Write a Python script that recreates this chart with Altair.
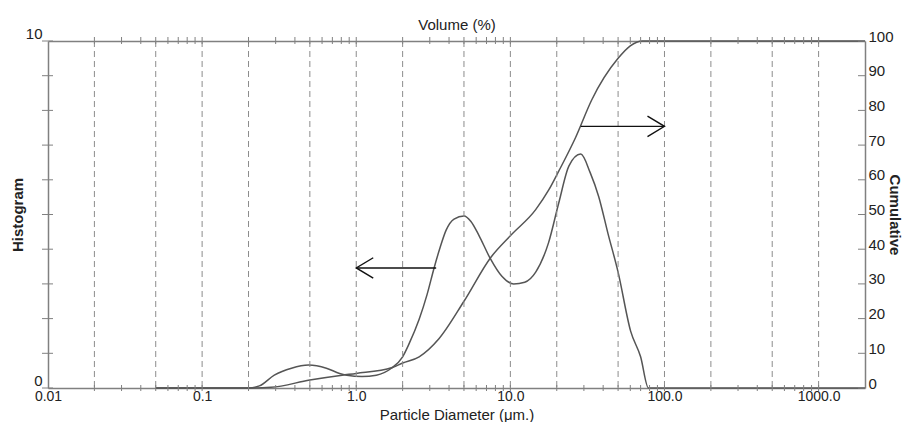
import altair as alt
import pandas as pd

# ---- data ----
hist_x = [0.05, 0.1, 0.2, 0.235, 0.294, 0.38, 0.49, 0.64, 0.78, 0.87, 1.09, 1.35, 1.69, 2.0, 2.2,
          2.56, 2.88, 3.2, 3.5, 3.83, 4.31, 5.0, 5.55, 6.25, 7.37, 8.81, 10.5, 12.4, 14.6, 17.7,
          20.6, 24.0, 28.6, 33.0, 37.4, 43.0, 50.0, 60.3, 70.0, 78.7, 100.0, 2000.0]
hist_y = [0, 0, 0, 0.06, 0.37, 0.57, 0.66, 0.57, 0.42, 0.37, 0.33, 0.37, 0.57, 0.9, 1.27,
          1.98, 2.69, 3.46, 4.05, 4.55, 4.87, 4.96, 4.8, 4.4, 3.75, 3.22, 3.0, 3.05, 3.34, 4.19,
          5.33, 6.4, 6.74, 6.2, 5.52, 4.45, 3.34, 1.64, 0.9, 0, 0, 0]

cum_x = [0.05, 0.1, 0.2, 0.28, 0.5, 0.81, 1.0, 1.71, 2.0, 2.56, 3.44, 5.0, 7.48, 10.0, 14.6,
         17.7, 20.6, 26.5, 33.7, 50.0, 60.0, 72.0, 100.0, 2000.0]
cum_y = [0, 0, 0, 0.2, 2.3, 3.7, 4.2, 5.9, 7.2, 9.0, 14.2, 25.0, 37.7, 43.9, 51.4,
         57.0, 62.5, 72.2, 83.0, 95.0, 98.6, 100.0, 100.0, 100.0]

grid_values = [0.02, 0.05, 0.1, 0.2, 0.5, 1, 2, 5, 10, 20, 50, 100, 200, 500, 1000]
minor_ticks = [0.02, 0.03, 0.04, 0.05, 0.06, 0.07, 0.08, 0.09,
               0.1, 0.2, 0.3, 0.4, 0.5, 0.6, 0.7, 0.8, 0.9,
               1, 2, 3, 4, 5, 6, 7, 8, 9,
               10, 20, 30, 40, 50, 60, 70, 80, 90,
               100, 200, 300, 400, 500, 600, 700, 800, 900,
               1000]
x_label_values = [0.01, 0.1, 1, 10, 100, 1000]
x_labels = ["0.01", "0.1", "1.0", "10.0", "100.0", "1000.0"]
left_tick_values = [0, 1, 2, 3, 4, 5, 6, 7, 8, 9, 10]
left_label_values = [0, 10]
right_tick_values = [0, 10, 20, 30, 40, 50, 60, 70, 80, 90, 100]

arrow_left_x = [1.0, 3.3]
arrow_left_y = 3.46
arrow_right_x = [28.6, 100.0]
arrow_right_y = 75.4

# ---- styling ----
W, H = 817, 347
FONT = "Liberation Sans"
AXC = "#808080"
LINEC = "#555555"
ARC = "#111111"

xscale = alt.Scale(type="log", domain=[0.01, 2000], nice=False)
hscale = alt.Scale(domain=[0, 10], nice=False, zero=True)
cscale = alt.Scale(domain=[0, 100], nice=False, zero=True)

label_expr = ""
for v, lab in zip(x_label_values, x_labels):
    label_expr += f"abs(datum.value - {v}) < {v * 1e-6} ? '{lab}' : "
label_expr += "''"

common_axis = dict(labelFont=FONT, labelColor="#222222",
                   titleFont=FONT, titleColor="#222222", domainColor=AXC,
                   domainWidth=1.5, grid=False, ticks=False, tickSize=0,
                   labelFlush=False)

bottom_axis = alt.Axis(orient="bottom", values=x_label_values, labelExpr=label_expr,
                       labelPadding=1, labelOverlap=False, labelFontSize=14,
                       title="Particle Diameter (μm.)", titleFontSize=15,
                       titleFontWeight="normal", titleY=31, titleBaseline="alphabetic",
                       **common_axis)
top_axis = alt.Axis(orient="top", labels=False, title="Volume (%)", titleFontSize=15,
                    titleFontWeight="normal", titleY=-17, titleBaseline="middle",
                    **common_axis)
left_axis = alt.Axis(orient="left", values=left_label_values, labelPadding=6,
                     labelFontSize=15, labelBaseline="bottom", title="Histogram",
                     titleFontSize=15, titleFontWeight="bold", titleAngle=270, titleX=-31,
                     titleY=H / 2, titleAlign="center", titleBaseline="middle",
                     **common_axis)
right_axis = alt.Axis(orient="right", values=right_tick_values, labelPadding=3,
                      labelFontSize=15, labelBaseline="alphabetic", labelAlign="left",
                      title="Cumulative", titleFontSize=15, titleFontWeight="bold",
                      titleAngle=90, titleX=29, titleY=H / 2, titleAlign="center",
                      titleBaseline="middle", **common_axis)

hist_df = pd.DataFrame({"d": hist_x, "h": hist_y})
cum_df = pd.DataFrame({"d": cum_x, "c": cum_y})
grid_df = pd.DataFrame({"d": grid_values})
xt_df = pd.DataFrame({"d": minor_ticks})
lt_df = pd.DataFrame({"v": left_tick_values})
rt_df = pd.DataFrame({"v": right_tick_values})

grid = alt.Chart(grid_df).mark_rule(color="#8c8c8c", strokeWidth=1, strokeDash=[6, 4]).encode(
    x=alt.X("d:Q", scale=xscale, axis=None))

top_ticks = alt.Chart(xt_df).mark_rule(color=AXC, strokeWidth=1).encode(
    x=alt.X("d:Q", scale=xscale, axis=None), y=alt.value(-4), y2=alt.value(3))
bottom_ticks = alt.Chart(xt_df).mark_rule(color=AXC, strokeWidth=1).encode(
    x=alt.X("d:Q", scale=xscale, axis=None), y=alt.value(H - 3), y2=alt.value(H + 3))
left_ticks = alt.Chart(lt_df).mark_rule(color=AXC, strokeWidth=1).encode(
    y=alt.Y("v:Q", scale=hscale, axis=None), x=alt.value(-6), x2=alt.value(5))
right_ticks = alt.Chart(rt_df).mark_rule(color=AXC, strokeWidth=1).encode(
    y=alt.Y("v:Q", scale=cscale, axis=None), x=alt.value(W - 7), x2=alt.value(W))

hist_line = alt.Chart(hist_df).mark_line(color=LINEC, strokeWidth=1.5,
                                         interpolate="monotone").encode(
    x=alt.X("d:Q", scale=xscale, axis=bottom_axis),
    y=alt.Y("h:Q", scale=hscale, axis=left_axis))

cum_line = alt.Chart(cum_df).mark_line(color=LINEC, strokeWidth=1.5,
                                       interpolate="monotone").encode(
    x=alt.X("d:Q", scale=xscale, axis=top_axis),
    y=alt.Y("c:Q", scale=cscale, axis=right_axis))

al_df = pd.DataFrame({"x": arrow_left_x, "y": [arrow_left_y] * len(arrow_left_x)})
ar_df = pd.DataFrame({"x": arrow_right_x, "y": [arrow_right_y] * len(arrow_right_x)})

al_shaft = alt.Chart(al_df).mark_line(color=ARC, strokeWidth=1.4).encode(
    x=alt.X("x:Q", scale=xscale, axis=None), y=alt.Y("y:Q", scale=hscale, axis=None))
al_head = alt.Chart(al_df.iloc[[0]]).mark_point(
    shape="M1,-0.6L0,0L1,0.6", size=1156, filled=False, color=ARC, strokeWidth=1.4,
    opacity=1).encode(
    x=alt.X("x:Q", scale=xscale, axis=None), y=alt.Y("y:Q", scale=hscale, axis=None))

ar_shaft = alt.Chart(ar_df).mark_line(color=ARC, strokeWidth=1.4).encode(
    x=alt.X("x:Q", scale=xscale, axis=None), y=alt.Y("y:Q", scale=cscale, axis=None))
ar_head = alt.Chart(ar_df.iloc[[-1]]).mark_point(
    shape="M-1,-0.6L0,0L-1,0.6", size=1156, filled=False, color=ARC, strokeWidth=1.4,
    opacity=1).encode(
    x=alt.X("x:Q", scale=xscale, axis=None), y=alt.Y("y:Q", scale=cscale, axis=None))

chart = alt.layer(hist_line, cum_line, grid, top_ticks, bottom_ticks, left_ticks, right_ticks,
                  al_shaft, al_head, ar_shaft, ar_head).resolve_scale(
    y="independent").resolve_axis(x="independent", y="independent").properties(
    width=W, height=H, autosize=alt.AutoSizeParams(type="none"),
    padding={"left": 40, "top": 33, "right": 37, "bottom": 34},
    background="white").configure_view(stroke=None)

chart.save("out.html", embed_options={"renderer": "svg", "actions": False})
